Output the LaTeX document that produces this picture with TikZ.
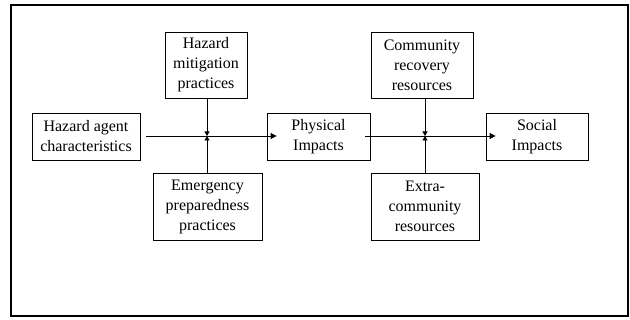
\documentclass[tikz,border=0pt]{standalone}
\usepackage{fontspec}
\setmainfont{Liberation Serif}
\usetikzlibrary{arrows.meta}
\begin{document}
\begin{tikzpicture}[x=1pt,y=-1pt,
  box/.style={draw,line width=0.8pt,align=center,inner sep=0pt,
    font=\fontsize{16}{20}\selectfont},
  flow/.style={line width=0.8pt,-{Triangle[length=6pt,width=6pt]}},
  feed/.style={line width=0.8pt,-{Triangle[length=4.5pt,width=5pt]}}]
\useasboundingbox (0,0) rectangle (630,320);
\draw[line width=1.3pt] (11,5) rectangle (628,316);
\node[box,minimum width=108pt,minimum height=47pt] (hac) at (86,136.5) {Hazard agent\\characteristics};
\node[box,minimum width=82pt,minimum height=66pt] (hmp) at (206,65) {Hazard\\mitigation\\practices};
\node[box,minimum width=109pt,minimum height=67pt] (epp) at (207.5,206.5) {Emergency\\preparedness\\practices};
\node[box,minimum width=103pt,minimum height=47pt] (phy) at (318.5,136.5) {Physical\\Impacts};
\node[box,minimum width=102pt,minimum height=66pt] (crr) at (422,65) {Community\\recovery\\resources};
\node[box,minimum width=108pt,minimum height=67pt] (ecr) at (425,206.5) {Extra-\\community\\resources};
\node[box,minimum width=102pt,minimum height=47pt] (soc) at (537,136.5) {Social\\Impacts};
\coordinate (j1) at (207,136);
\coordinate (j2) at (425,136);
\draw[flow] ([xshift=6pt]hac.east |- j1) -- ([xshift=10pt]phy.west |- j1);
\draw[flow] ([xshift=-5pt]phy.east |- j2) -- ([xshift=10pt]soc.west |- j2);
\draw[feed] (j1 |- hmp.south) -- (j1);
\draw[feed] (j1 |- epp.north) -- (j1);
\draw[feed] (j2 |- crr.south) -- (j2);
\draw[feed] (j2 |- ecr.north) -- (j2);
\end{tikzpicture}
\end{document}
